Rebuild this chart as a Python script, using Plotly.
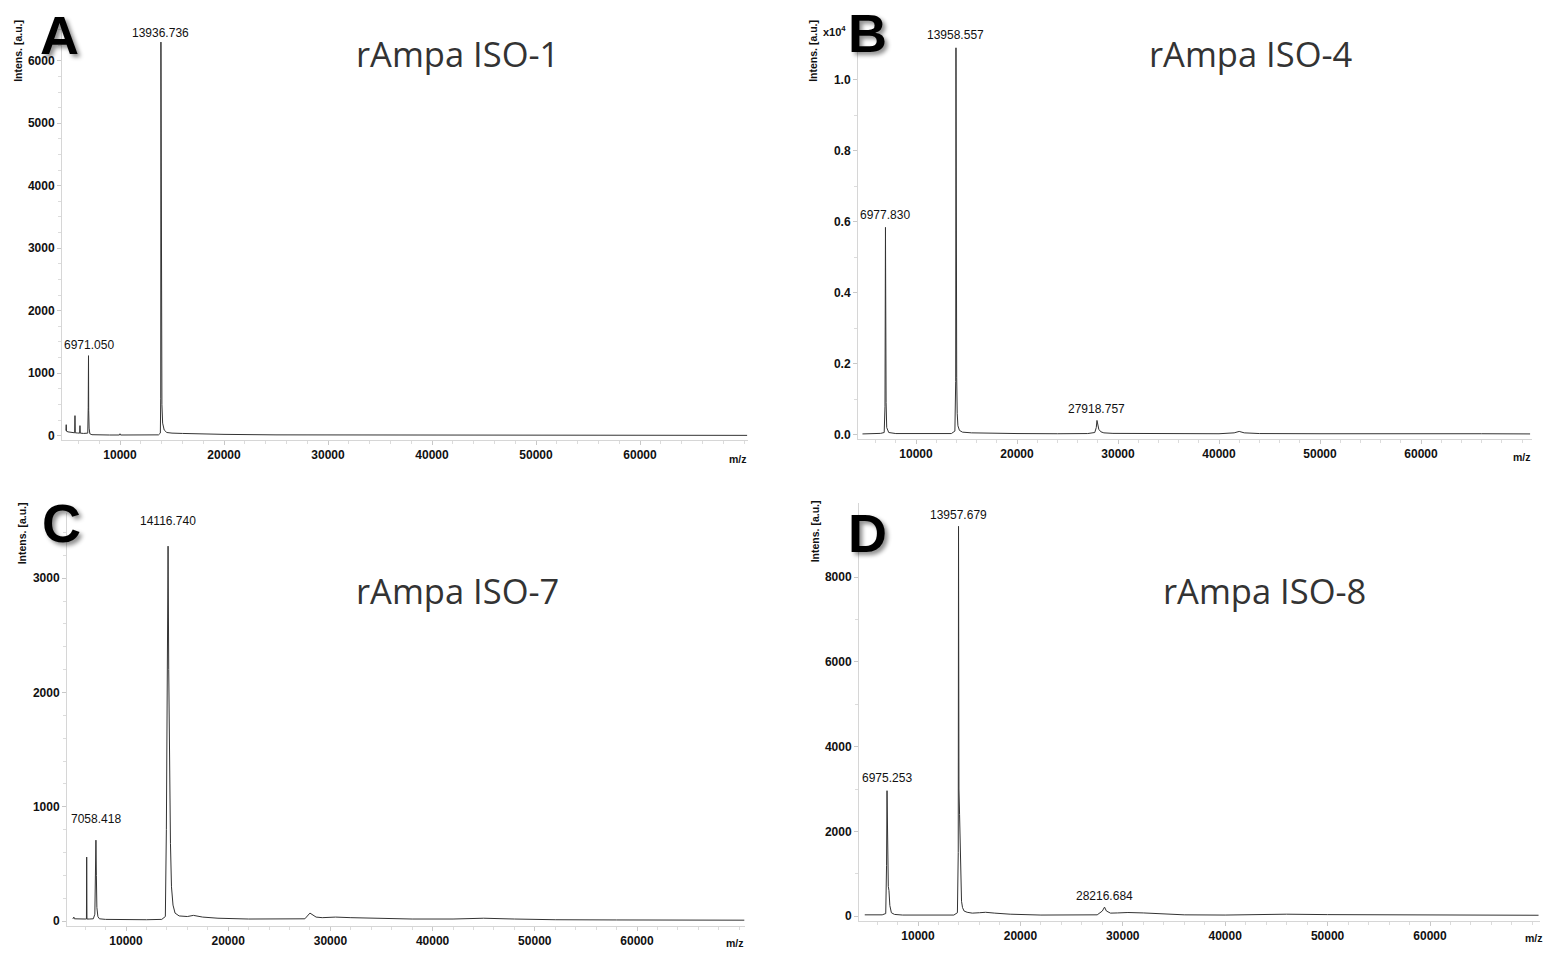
import plotly.graph_objects as go

W, H = 1547, 953

# ---------------- data ----------------
mz_A = [4800, 4830, 4860, 5000, 5200, 5400, 5640, 5670, 5700, 5900, 6120, 6150, 6180, 6500, 6800,
        6900, 6945, 6971, 6990, 7030, 7100, 7300, 8000, 9000, 9950, 10000, 10050, 11000, 12000,
        13000, 13700, 13880, 13915, 13936, 13950, 13965, 13990, 14030, 14100, 14250, 14500, 15000,
        16000, 17000, 18000, 20000, 25000, 30000, 40000, 50000, 60000, 70300]
int_A = [80, 175, 70, 60, 55, 50, 45, 320, 45, 42, 40, 160, 40, 35, 30,
         40, 450, 1280, 400, 120, 30, 15, 10, 10, 10, 30, 10, 10, 10,
         10, 12, 40, 600, 6300, 3000, 2400, 1200, 500, 200, 90, 50, 40,
         35, 30, 25, 20, 12, 10, 8, 6, 5, 4]

mz_B = [4700, 5000, 5500, 6000, 6500, 6850, 6930, 6977, 7000, 7040, 7100, 7300, 8000, 10000, 12000,
        13500, 13850, 13930, 13958, 13975, 13995, 14030, 14080, 14150, 14300, 14600, 15500, 17000,
        20000, 24000, 27000, 27700, 27850, 27918, 27980, 28100, 28300, 28600, 29500, 32000, 36000,
        40000, 41500, 42000, 42500, 44000, 50000, 55000, 58000, 62000, 66000, 70800]
int_B = [20, 20, 25, 30, 35, 60, 800, 5840, 3000, 900, 200, 60, 30, 25, 25,
         30, 100, 1500, 10900, 4500, 3260, 1600, 600, 250, 120, 70, 50, 40,
         30, 25, 30, 60, 200, 400, 300, 150, 80, 50, 35, 30, 25,
         25, 50, 90, 50, 30, 25, 30, 35, 30, 25, 20]

mz_C = [4800, 4900, 4950, 5200, 5600, 6000, 6130, 6155, 6180, 6400, 6800, 6950, 7010, 7058, 7100,
        7150, 7250, 7400, 8000, 10000, 12000, 13500, 13850, 13950, 14050, 14116, 14180, 14260, 14350,
        14450, 14600, 14800, 15200, 16000, 16600, 17500, 19000, 22000, 26000, 27500, 28000, 28300,
        28600, 29200, 30500, 32000, 34000, 38000, 42000, 45000, 48000, 52000, 58000, 64000, 70500]
int_C = [20, 35, 20, 18, 18, 18, 18, 560, 18, 18, 20, 60, 300, 708, 400,
         120, 40, 20, 15, 12, 12, 15, 40, 800, 2600, 3280, 2200, 1100, 680,
         300, 140, 70, 45, 40, 50, 35, 25, 18, 15, 20, 70, 50,
         35, 30, 35, 30, 25, 18, 18, 25, 18, 12, 10, 10, 8]

mz_D = [4800, 5200, 5600, 6000, 6500, 6850, 6930, 6975, 7000, 7040, 7100, 7165, 7250, 7400, 7700,
        8500, 10000, 12000, 13500, 13850, 13930, 13957, 13975, 14000, 14060, 14120, 14180, 14250,
        14350, 14500, 14800, 15300, 16000, 16600, 17500, 19000, 22000, 26000, 27500, 28000, 28216,
        28400, 28800, 29500, 30500, 32000, 34000, 36000, 40000, 44000, 46000, 50000, 55000, 60000,
        65000, 70600]
int_D = [30, 30, 28, 25, 30, 60, 1200, 2960, 2200, 1000, 700, 600, 250, 80, 40,
         25, 20, 20, 25, 80, 1500, 9200, 5000, 3000, 2400, 1500, 700, 350,
         200, 120, 90, 70, 80, 90, 70, 45, 25, 20, 30, 120, 212,
         120, 70, 75, 85, 75, 45, 30, 25, 35, 45, 35, 30, 30,
         25, 20]

x_ticks = [10000, 20000, 30000, 40000, 50000, 60000]
x_text = ["10000", "20000", "30000", "40000", "50000", "60000"]
y_ticks_A = [0, 1000, 2000, 3000, 4000, 5000, 6000]
y_ticks_B = [0, 2000, 4000, 6000, 8000, 10000]
y_text_B = ["0.0", "0.2", "0.4", "0.6", "0.8", "1.0"]
y_ticks_C = [0, 1000, 2000, 3000]
y_ticks_D = [0, 2000, 4000, 6000, 8000]

titles = ["rAmpa ISO-1", "rAmpa ISO-4", "rAmpa ISO-7", "rAmpa ISO-8"]
letters = ["A", "B", "C", "D"]
peaks = [
    [(13936.736, 6300, "13936.736", 0), (6971.050, 1280, "6971.050", 2)],
    [(13958.557, 10900, "13958.557", 4), (6977.830, 5840, "6977.830", 3), (27918.757, 400, "27918.757", 2)],
    [(14116.740, 3280, "14116.740", 16), (7058.418, 708, "7058.418", 12)],
    [(13957.679, 9200, "13957.679", 2), (6975.253, 2960, "6975.253", 4), (28216.684, 212, "28216.684", 2)],
]

# ---------------- layout geometry (pixel calibration) ----------------
panels = [
    dict(mz=mz_A, it=int_A, xcal=(10000, 120, 60000, 640), ycal=(0, 437, 6000, 61),
         box=(62, 748, 28, 441), yt=y_ticks_A, ytt=None, ymin=250),
    dict(mz=mz_B, it=int_B, xcal=(10000, 916, 60000, 1421), ycal=(0, 436, 10000, 80),
         box=(858, 1532, 28, 440), yt=y_ticks_B, ytt=y_text_B, ymin=1000),
    dict(mz=mz_C, it=int_C, xcal=(10000, 126, 60000, 637), ycal=(0, 924, 3000, 580),
         box=(67, 745, 515, 929), yt=y_ticks_C, ytt=None, ymin=200),
    dict(mz=mz_D, it=int_D, xcal=(10000, 918, 60000, 1430), ycal=(0, 919, 8000, 579),
         box=(859, 1540, 505, 924), yt=y_ticks_D, ytt=None, ymin=1000),
]

fig = go.Figure()
tickfont = dict(family="Liberation Sans", size=12, color="#111", weight="bold")
annotations = []

def lin(v0, p0, v1, p1, p):
    return v0 + (p - p0) * (v1 - v0) / (p1 - p0)

for i, p in enumerate(panels):
    n = "" if i == 0 else str(i + 1)
    xl, xr, yt_, yb = p["box"]
    xr0 = lin(p["xcal"][0], p["xcal"][1], p["xcal"][2], p["xcal"][3], xl)
    xr1 = lin(p["xcal"][0], p["xcal"][1], p["xcal"][2], p["xcal"][3], xr)
    yr0 = lin(p["ycal"][0], p["ycal"][1], p["ycal"][2], p["ycal"][3], yb)
    yr1 = lin(p["ycal"][0], p["ycal"][1], p["ycal"][2], p["ycal"][3], yt_)
    fig.add_trace(go.Scatter(x=p["mz"], y=p["it"], mode="lines",
                             line=dict(color="#333", width=1),
                             xaxis="x" + n, yaxis="y" + n, showlegend=False,
                             hoverinfo="x+y"))
    fig.layout["xaxis" + n] = dict(
        domain=[xl / W, xr / W], range=[xr0, xr1], anchor="y" + n,
        showgrid=False, zeroline=False, showline=True, linecolor="#d6d6d6", linewidth=1,
        ticks="outside", ticklen=4, tickcolor="#c8c8c8", tickvals=x_ticks, ticktext=x_text,
        tickfont=tickfont,
        minor=dict(ticks="outside", ticklen=3, tickcolor="#dcdcdc", dtick=2000, tick0=0),
    )
    yd = dict(
        domain=[1 - yb / H, 1 - yt_ / H], range=[yr0, yr1], anchor="x" + n,
        showgrid=False, zeroline=False, showline=True, linecolor="#d6d6d6", linewidth=1,
        ticks="outside", ticklen=4, tickcolor="#c8c8c8", tickvals=p["yt"],
        ticktext=p["ytt"] if p["ytt"] is not None else [str(v) for v in p["yt"]],
        tickfont=tickfont,
        minor=dict(ticks="outside", ticklen=3, tickcolor="#dcdcdc", dtick=p["ymin"], tick0=0),
    )
    fig.layout["yaxis" + n] = yd
    for (mzv, iv, txt, ys) in peaks[i]:
        annotations.append(dict(x=mzv, y=iv, xref="x" + n, yref="y" + n, text=txt,
                                showarrow=False, yanchor="bottom", yshift=ys,
                                font=dict(family="Liberation Sans", size=12, color="#111")))

def ppx(x):
    return x / W

def ppy(y):
    return 1 - y / H

# titles
for txt, (cx, cy) in zip(titles, [(457, 54), (1251, 54), (457, 592), (1264, 592)]):
    annotations.append(dict(x=ppx(cx), y=ppy(cy), xref="paper", yref="paper", text=txt,
                            showarrow=False, xanchor="center", yanchor="middle",
                            font=dict(family="Open Sans", size=34.5, color="#333")))
# panel letters
for txt, (cx, cy) in zip(letters, [(59, 35), (867, 33), (61, 525), (867, 535)]):
    annotations.append(dict(x=ppx(cx), y=ppy(cy), xref="paper", yref="paper", text=txt,
                            showarrow=False, xanchor="center", yanchor="middle",
                            font=dict(family="Liberation Sans", size=54, color="#000",
                                      weight="bold", shadow="3px 3px 4px rgba(0,0,0,0.45)")))
# y-axis titles
for (cx, cy) in [(18, 51), (813, 51), (22, 535), (815, 533)]:
    annotations.append(dict(x=ppx(cx), y=ppy(cy), xref="paper", yref="paper",
                            text="Intens. [a.u.]", textangle=-90, showarrow=False,
                            xanchor="center", yanchor="middle",
                            font=dict(family="Liberation Sans", size=10.5, color="#111",
                                      weight="bold")))
# m/z labels
for (cx, cy) in [(738, 460), (1522, 458), (735, 946), (1534, 941)]:
    annotations.append(dict(x=ppx(cx), y=ppy(cy), xref="paper", yref="paper", text="m/z",
                            showarrow=False, xanchor="center", yanchor="middle",
                            font=dict(family="Liberation Sans", size=10.5, color="#111",
                                      weight="bold")))
# x10^4 multiplier
annotations.append(dict(x=ppx(834), y=ppy(31), xref="paper", yref="paper",
                        text="x10<sup>4</sup>", showarrow=False, xanchor="center",
                        yanchor="middle",
                        font=dict(family="Liberation Sans", size=11, color="#111",
                                  weight="bold")))

fig.update_layout(width=W, height=H, margin=dict(l=0, r=0, t=0, b=0),
                  paper_bgcolor="white", plot_bgcolor="white",
                  annotations=annotations, showlegend=False)

fig.write_html("out.html", config={"displayModeBar": False},
               post_script="document.body.style.margin='0';document.body.style.overflow='hidden';")
